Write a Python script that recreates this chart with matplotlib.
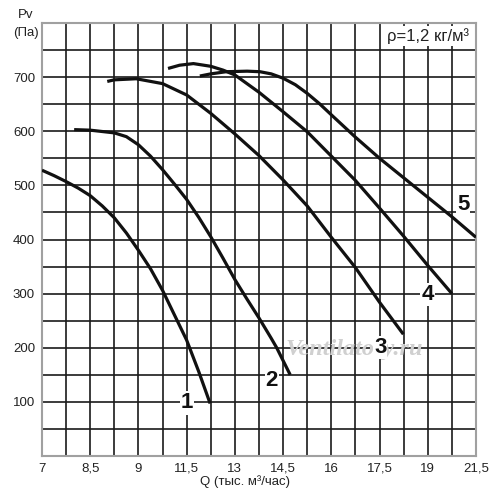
import matplotlib
matplotlib.use("Agg")
import matplotlib.pyplot as plt

# ---- data ----
x_ticks = [7 + 0.75 * i for i in range(19)]
x_labels = ['7', '', '8,5', '', '9', '', '11,5', '', '13', '', '14,5', '',
            '16', '', '17,5', '', '19', '', '21,5']
y_ticks = list(range(0, 801, 50))
y_labels = [str(v) if (v % 100 == 0 and 100 <= v <= 700) else '' for v in y_ticks]

# x values on the linear scale (one grid step = 0.75)
c1_x = [7.0, 7.375, 7.75, 8.125, 8.5, 8.875, 9.25, 9.625, 10.0, 10.375, 10.75,
        11.125, 11.5, 11.875, 12.23]
c1_y = [528, 518, 507, 495, 481, 462, 440, 412, 380, 346, 306, 260, 214, 156, 97]

c2_x = [8.0, 8.5, 9.25, 9.625, 10.0, 10.375, 10.75, 11.125, 11.5, 11.875, 12.25,
        12.625, 13.0, 13.375, 13.75, 14.125, 14.3, 14.72]
c2_y = [603, 602, 597, 590, 575, 554, 529, 502, 474, 441, 405, 366, 326, 290,
        255, 218, 200, 150]

c3_x = [9.03, 9.25, 9.93, 10.75, 11.5, 12.25, 13.0, 13.75, 14.5, 15.25, 16.0,
        16.75, 17.5, 18.24]
c3_y = [692, 695, 697, 688, 667, 633, 595, 555, 510, 462, 404, 348, 284, 225]

c4_x = [10.92, 11.28, 11.71, 12.25, 12.63, 13.0, 13.75, 14.5, 15.25, 16.0,
        16.75, 17.5, 18.25, 19.0, 19.75]
c4_y = [716, 722, 725, 720, 713, 704, 672, 636, 599, 554, 509, 458, 406, 352, 300]

c5_x = [11.91, 12.25, 12.73, 13.38, 13.78, 14.13, 14.5, 14.88, 15.25, 15.63,
        16.06, 16.75, 17.5, 18.25, 19.0, 19.75, 20.5]
c5_y = [702, 706, 710, 711, 710, 706, 698, 686, 670, 651, 627, 589, 550, 514,
        478, 442, 404]

curve_names = ['1', '2', '3', '4', '5']
label_pos = [(11.51, 98), (14.15, 139), (17.52, 200), (19.0, 298), (20.1, 464)]

# ---- figure ----
fig = plt.figure(figsize=(5, 5), dpi=100)
ax = fig.add_axes([0.084, 0.088, 0.868, 0.866])
ax.set_xlim(7, 20.5)
ax.set_ylim(0, 800)

ax.set_xticks(x_ticks)
ax.set_xticklabels(x_labels)
ax.set_yticks(y_ticks)
ax.set_yticklabels(y_labels)
ax.tick_params(length=0, labelsize=9.5, pad=5)
for t in ax.get_xticklabels() + ax.get_yticklabels():
    t.set_fontfamily('Liberation Sans')
    t.set_color('#222222')
ax.grid(True, color='#1a1a1a', linewidth=1.2)
ax.set_axisbelow(True)
for s in ax.spines.values():
    s.set_color('#a0a0a0')
    s.set_linewidth(1.5)

# watermark
ax.text(16.7, 196, 'Ventilatory.ru', fontsize=17.5, fontstyle='italic', fontweight='bold',
        family=['Liberation Serif', 'DejaVu Serif'], color='#d0d0d0', ha='center', va='center',
        zorder=1.5)

for xs, ys in [(c1_x, c1_y), (c2_x, c2_y), (c3_x, c3_y), (c4_x, c4_y), (c5_x, c5_y)]:
    ax.plot(xs, ys, color='#111111', linewidth=2.3, solid_capstyle='butt',
            solid_joinstyle='round', zorder=3)

for name, (lx, ly) in zip(curve_names, label_pos):
    ax.text(lx, ly, name, fontsize=16, fontweight='bold',
            family=['Liberation Sans Narrow', 'Liberation Sans', 'DejaVu Sans'],
            color='#111111', ha='center', va='center', zorder=4,
            bbox=dict(boxstyle='square,pad=0.05', fc='white', ec='none'))

ax.text(19.0, 776, 'ρ=1,2 кг/м³', fontsize=12, family=['Liberation Sans', 'DejaVu Sans'],
        color='#222222', ha='center', va='center', zorder=4,
        bbox=dict(boxstyle='square,pad=0.1', fc='white', ec='none'))

fig.text(0.052, 0.97, 'Pv', fontsize=9.5, family='Liberation Sans', color='#222222',
         ha='center', va='center')
fig.text(0.052, 0.934, '(Па)', fontsize=9.5, family='Liberation Sans', color='#222222',
         ha='center', va='center')
fig.text(0.49, 0.036, 'Q (тыс. м³/час)', fontsize=9.5, family=['Liberation Sans', 'DejaVu Sans'],
         color='#222222', ha='center', va='center')

fig.savefig('out.png', dpi=100, facecolor='white')
